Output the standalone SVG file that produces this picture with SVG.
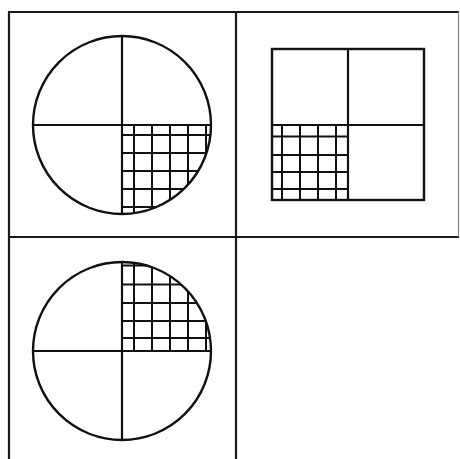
<svg xmlns="http://www.w3.org/2000/svg" width="460" height="459" viewBox="0 0 460 459">
<style>
.frame{stroke:#1a1a1a;stroke-width:2.2;fill:none}
.shape{stroke:#111;stroke-width:2.4;fill:none}
.axis{stroke:#111;stroke-width:2.2;fill:none}
.grid{stroke:#111;stroke-width:2;fill:none}
</style>
<defs>
<clipPath id="c1"><circle cx="122" cy="125" r="89"/></clipPath>
<clipPath id="c3"><circle cx="122" cy="351" r="89"/></clipPath>
</defs>
<rect width="460" height="459" fill="#fff"/>
<g id="frame">
<line class="frame" x1="8" y1="12" x2="459" y2="12"/>
<line class="frame" x1="9" y1="12" x2="9" y2="459"/>
<line class="frame" x1="236" y1="12" x2="236" y2="459"/>
<line class="frame" x1="8" y1="237" x2="459" y2="237"/>
<line x1="458.5" y1="12" x2="458.5" y2="237" stroke="#888" stroke-width="1.2"/>
</g>
<g id="panel-circle-top">
<g clip-path="url(#c1)">
<path class="grid" d="M134 125V214M152 125V214M170 125V214M188 125V214M206 125V214M122 135H211M122 153H211M122 171H211M122 189H211M122 207H211"/>
</g>
<circle class="shape" cx="122" cy="125" r="89"/>
<path class="axis" d="M122 36V214M33 125H211"/>
</g>
<g id="panel-square">
<path class="grid" d="M282 125V200M300 125V200M318 125V200M336 125V200M272 136.5H348M272 155H348M272 172H348M272 189H348"/>
<rect class="shape" x="272" y="49" width="152" height="151"/>
<path class="axis" d="M348 49V200M272 125H424"/>
</g>
<g id="panel-circle-bottom">
<g clip-path="url(#c3)">
<path class="grid" d="M134 262V351M152 262V351M170 262V351M188 262V351M206 262V351M122 338H211M122 321H211M122 303H211M122 284.5H211M122 265.5H211"/>
</g>
<circle class="shape" cx="122" cy="351" r="89"/>
<path class="axis" d="M122 262V440M33 351H211"/>
</g>
</svg>
